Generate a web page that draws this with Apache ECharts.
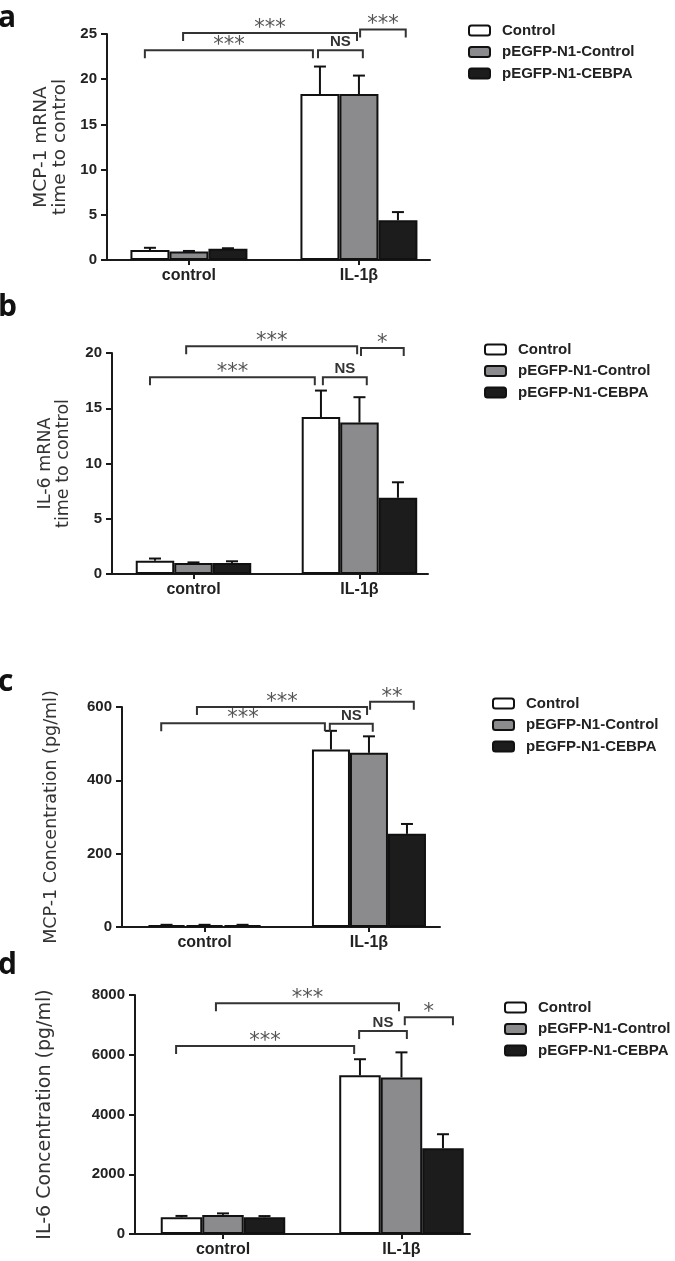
<!DOCTYPE html>
<html><head><meta charset="utf-8">
<script src="https://cdn.jsdelivr.net/npm/echarts@6/dist/echarts.min.js"></script>
<style>html,body{margin:0;padding:0;background:#fff}#c{width:675px;height:1261px}</style>
</head><body><div id="c"></div>
<script>
// ---------- data ----------
const categories = ['control', 'IL-1β'];
const seriesNames = ['Control', 'pEGFP-N1-Control', 'pEGFP-N1-CEBPA'];

// panel a: MCP-1 mRNA (rows = series, cols = categories)
const aMean  = [[1.1, 18.35], [0.95, 18.35], [1.25, 4.4]];
const aUpper = [[1.35, 21.4], [1.0, 20.4], [1.3, 5.3]];
const aYTicks = [0, 5, 10, 15, 20, 25];
const aYName = 'MCP-1 mRNA\ntime to control';
// [catA, offsetA(bar widths), catB, offsetB, y, label]
const aBrackets = [[0, -1.13, 1, -1.18, 23.2, '***'], [0, -0.15, 1, -0.05, 25.1, '***'],
                   [1, -1.05, 1, 0.1, 23.2, 'NS'], [1, 0.03, 1, 1.2, 25.5, '***']];

// panel b: IL-6 mRNA
const bMean  = [[1.2, 14.2], [1.0, 13.7], [1.0, 6.9]];
const bUpper = [[1.4, 16.6], [1.05, 16.0], [1.15, 8.3]];
const bYTicks = [0, 5, 10, 15, 20];
const bYName = 'IL-6 mRNA\ntime to control';
const bBrackets = [[0, -1.13, 1, -1.16, 17.8, '***'], [0, -0.19, 1, -0.06, 20.6, '***'],
                   [1, -0.95, 1, 0.19, 17.8, 'NS'], [1, 0.04, 1, 1.15, 20.45, '*']];

// panel c: MCP-1 concentration
const cMean  = [[5, 484], [5, 475], [5, 254]];
const cUpper = [[6, 535], [6, 520], [6, 281]];
const cYTicks = [0, 200, 400, 600];
const cYName = 'MCP-1 Concentration (pg/ml)';
const cBrackets = [[0, -1.14, 1, -1.16, 556, '***'], [0, -0.2, 1, -0.05, 600, '***'],
                   [1, -1.03, 1, 0.1, 554, 'NS'], [1, 0.03, 1, 1.18, 614, '**']];

// panel d: IL-6 concentration
const dMean  = [[560, 5310], [640, 5240], [560, 2870]];
const dUpper = [[605, 5850], [690, 6080], [600, 3340]];
const dYTicks = [0, 2000, 4000, 6000, 8000];
const dYName = 'IL-6 Concentration (pg/ml)';
const dBrackets = [[0, -1.13, 1, -1.14, 6295, '***'], [0, -0.17, 1, -0.06, 7723, '***'],
                   [1, -1.02, 1, 0.13, 6797, 'NS'], [1, 0.08, 1, 1.24, 7254, '*']];

// ---------- layout / style ----------
const barStyles = [
  {color: '#ffffff', borderColor: '#111', borderWidth: 2},
  {color: '#8b8b8e', borderColor: '#111', borderWidth: 2},
  {color: '#1c1c1c', borderColor: '#111', borderWidth: 2}
];
const panels = [
  {letter: 'a', mean: aMean, upper: aUpper, ticks: aYTicks, yName: aYName, brackets: aBrackets,
   grid: {left: 107, top: 34, width: 323, height: 226}, xMin: -0.482, xMax: 1.418, barW: 39,
   nameGap: 37, nameSize: 18.5, legend: {left: 463, top: 18}, letterPos: [-2, 33]},
  {letter: 'b', mean: bMean, upper: bUpper, ticks: bYTicks, yName: bYName, brackets: bBrackets,
   grid: {left: 112, top: 353, width: 316, height: 221}, xMin: -0.491, xMax: 1.413, barW: 38.5,
   nameGap: 40, nameSize: 17.5, legend: {left: 479, top: 337}, letterPos: [-2, 322]},
  {letter: 'c', mean: cMean, upper: cUpper, ticks: cYTicks, yName: cYName, brackets: cBrackets,
   grid: {left: 122, top: 707, width: 318, height: 220}, xMin: -0.502, xMax: 1.432, barW: 38,
   nameGap: 62, nameSize: 17.5, legend: {left: 487, top: 691}, letterPos: [-2, 697]},
  {letter: 'd', mean: dMean, upper: dUpper, ticks: dYTicks, yName: dYName, brackets: dBrackets,
   grid: {left: 135, top: 995, width: 335, height: 239}, xMin: -0.493, xMax: 1.384, barW: 41.5,
   nameGap: 80, nameSize: 19, legend: {left: 499, top: 995}, letterPos: [-2, 980]}
];

const option = {animation: false, grid: [], xAxis: [], yAxis: [], series: [], legend: [], graphic: []};
const axisLineStyle = {color: '#1a1a1a', width: 2};

panels.forEach((p, i) => {
  option.grid.push({left: p.grid.left, top: p.grid.top, width: p.grid.width, height: p.grid.height});
  option.xAxis.push({
    type: 'value', gridIndex: i, min: p.xMin, max: p.xMax, splitLine: {show: false},
    axisLine: {show: true, onZero: false, lineStyle: axisLineStyle},
    axisTick: {show: true, customValues: [0, 1], length: 5, lineStyle: axisLineStyle},
    axisLabel: {customValues: [0, 1], formatter: v => categories[Math.round(v)], margin: 8,
      fontSize: 16, fontWeight: 'bold', color: '#222', fontFamily: 'Liberation Sans'}
  });
  option.yAxis.push({
    type: 'value', gridIndex: i, min: p.ticks[0], max: p.ticks[p.ticks.length - 1],
    interval: p.ticks[1] - p.ticks[0], splitLine: {show: false},
    axisLine: {show: true, onZero: false, lineStyle: axisLineStyle},
    axisTick: {show: true, length: 6, lineStyle: axisLineStyle},
    axisLabel: {fontSize: 15, fontWeight: 'bold', color: '#222', fontFamily: 'Liberation Sans', margin: 10,
      formatter: v => String(v)},
    name: p.yName, nameLocation: 'middle', nameGap: p.nameGap,
    nameTextStyle: {fontFamily: 'DejaVu Sans', fontSize: p.nameSize, color: '#333', lineHeight: Math.round(p.nameSize * 1.05)}
  });
  seriesNames.forEach((sn, k) => {
    option.series.push({
      type: 'bar', name: sn, xAxisIndex: i, yAxisIndex: i, barWidth: p.barW, barGap: '0%',
      data: categories.map((c, ci) => [ci, p.mean[k][ci]]), itemStyle: barStyles[k], z: 2
    });
  });
  const errData = [];
  seriesNames.forEach((sn, k) => categories.forEach((c, ci) => errData.push([ci, k - 1, p.mean[k][ci], p.upper[k][ci]])));
  option.series.push({
    type: 'custom', xAxisIndex: i, yAxisIndex: i, clip: false, silent: true, z: 5,
    encode: {x: 0, y: 3}, data: errData,
    renderItem: (params, api) => {
      const base = api.coord([api.value(0), api.value(2)]);
      const top = api.coord([api.value(0), api.value(3)]);
      const x = base[0] + api.value(1) * p.barW;
      return {type: 'group', children: [
        {type: 'line', shape: {x1: x, y1: base[1], x2: x, y2: top[1]}, style: {stroke: '#111', lineWidth: 2}},
        {type: 'line', shape: {x1: x - 6, y1: top[1], x2: x + 6, y2: top[1]}, style: {stroke: '#111', lineWidth: 2}}
      ]};
    }
  });
  option.series.push({
    type: 'custom', xAxisIndex: i, yAxisIndex: i, clip: false, silent: true, z: 6,
    encode: {x: 0, y: 4}, data: p.brackets.map(b => b.slice(0, 5)),
    renderItem: (params, api) => {
      const label = p.brackets[params.dataIndex][5];
      const y = api.value(4);
      const p1 = api.coord([api.value(0), y]);
      const p2 = api.coord([api.value(2), y]);
      const x1 = p1[0] + api.value(1) * p.barW, x2 = p2[0] + api.value(3) * p.barW;
      const yy = p1[1];
      const isNS = label === 'NS';
      return {type: 'group', children: [
        {type: 'polyline', shape: {points: [[x1, yy + 8], [x1, yy], [x2, yy], [x2, yy + 8]]},
         style: {stroke: '#333', lineWidth: 2, fill: null}},
        {type: 'text', x: (x1 + x2) / 2, y: yy - (isNS ? 1 : -6),
         style: {text: label, fill: isNS ? '#333' : '#555', align: 'center', verticalAlign: 'bottom',
                 fontSize: isNS ? 15 : 21, fontWeight: isNS ? 'bold' : 'normal',
                 fontFamily: isNS ? 'Liberation Sans' : 'DejaVu Sans'}}
      ]};
    }
  });
  option.legend.push({
    orient: 'vertical', left: p.legend.left, top: p.legend.top, data: seriesNames, icon: 'roundRect',
    itemWidth: 21, itemHeight: 10, itemGap: 6.5, selectedMode: false,
    textStyle: {fontSize: 15, fontWeight: 'bold', color: '#222', fontFamily: 'Liberation Sans', padding: [0, 0, 0, 7]}
  });
  option.graphic.push({
    type: 'text', x: p.letterPos[0], y: p.letterPos[1],
    style: {text: p.letter, fontFamily: 'Open Sans', fontWeight: 'bold', fontSize: 30, fill: '#111',
            verticalAlign: 'bottom'}
  });
});

const chart = echarts.init(document.getElementById('c'), null, {renderer: 'canvas'});
chart.setOption(option);
</script>
</body></html>
